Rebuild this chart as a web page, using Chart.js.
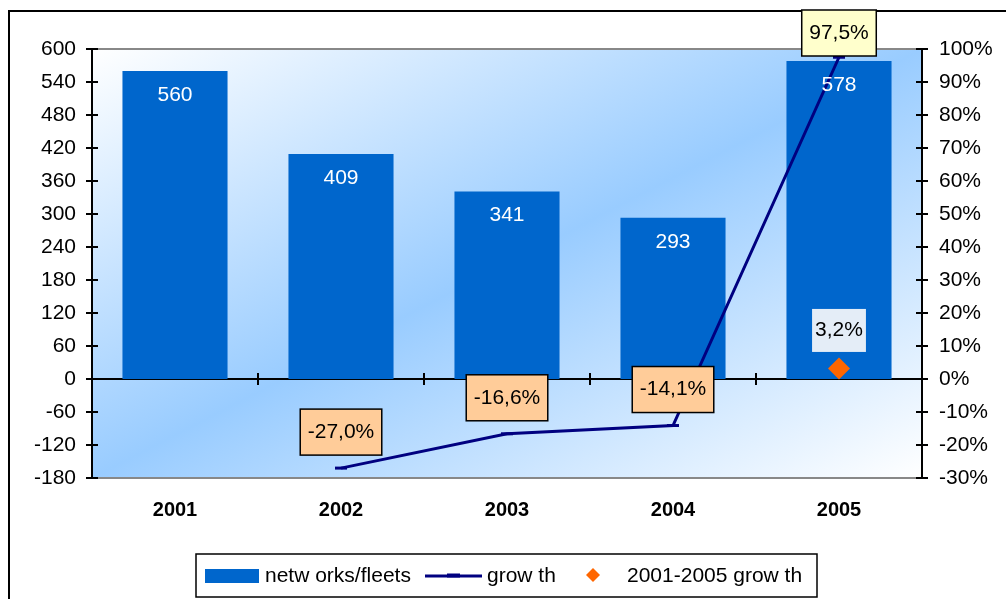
<!DOCTYPE html>
<html>
<head>
<meta charset="utf-8">
<script src="https://cdn.jsdelivr.net/npm/chart.js@4"></script>
<style>
  html, body { margin: 0; padding: 0; background: #fff; }
  #wrap { position: relative; width: 1006px; height: 599px; }
</style>
</head>
<body>
<div id="wrap"><canvas id="chart"></canvas></div>
<script>
const years = ["2001", "2002", "2003", "2004", "2005"];
const fleets = [560, 409, 341, 293, 578];
const growth = [null, -27.0, -16.6, -14.1, 97.5];
const growthTotal = [null, null, null, null, 3.2];
const legendLabels = ["netw orks/fleets", "grow th", "2001-2005 grow th"];

const FONT = '"Liberation Sans", Arial, sans-serif';
const BLUE = "#0066cc", NAVY = "#000080", ORANGE = "#ff6600";
const pct = v => v.toFixed(1).replace(".", ",") + "%";

function diamond(ctx, x, y, r) {
  ctx.beginPath();
  ctx.moveTo(x, y - r); ctx.lineTo(x + r, y); ctx.lineTo(x, y + r); ctx.lineTo(x - r, y);
  ctx.closePath();
  ctx.fill();
}

const decor = {
  id: "decor",
  beforeDraw(chart) {
    const { ctx, chartArea: a } = chart;
    ctx.save();
    // outer frame
    ctx.strokeStyle = "#000";
    ctx.lineWidth = 2;
    ctx.strokeRect(9, 11, 1100, 700);
    // plot area gradient (white -> blue -> white along the diagonal)
    ctx.save();
    ctx.translate(a.left, a.top);
    ctx.scale(a.right - a.left, a.bottom - a.top);
    const g = ctx.createLinearGradient(0, 0, 1, 1);
    g.addColorStop(0, "#ffffff");
    g.addColorStop(0.5, "#99ccff");
    g.addColorStop(1, "#ffffff");
    ctx.fillStyle = g;
    ctx.fillRect(0, 0, 1, 1);
    ctx.restore();
    // grey top / bottom edges
    ctx.strokeStyle = "#888";
    ctx.beginPath();
    ctx.moveTo(a.left, a.top); ctx.lineTo(a.right, a.top);
    ctx.moveTo(a.left, a.bottom); ctx.lineTo(a.right, a.bottom);
    ctx.stroke();
    ctx.restore();
  },
  beforeDatasetsDraw(chart) {
    const { ctx, chartArea: a, scales } = chart;
    const y = scales.y, y1 = scales.y1, x = scales.x;
    const zy = y.getPixelForValue(0);
    ctx.save();
    ctx.strokeStyle = "#000";
    ctx.lineWidth = 2;
    ctx.beginPath();
    ctx.moveTo(a.left, a.top); ctx.lineTo(a.left, a.bottom);
    ctx.moveTo(a.right, a.top); ctx.lineTo(a.right, a.bottom);
    ctx.moveTo(a.left, zy); ctx.lineTo(a.right, zy);
    y.ticks.forEach(t => {
      const py = y.getPixelForValue(t.value);
      ctx.moveTo(a.left - 6, py); ctx.lineTo(a.left + 6, py);
    });
    y1.ticks.forEach(t => {
      const py = y1.getPixelForValue(t.value);
      ctx.moveTo(a.right - 6, py); ctx.lineTo(a.right + 6, py);
    });
    for (let i = 1; i < years.length; i++) {
      const px = (x.getPixelForValue(i - 1) + x.getPixelForValue(i)) / 2;
      ctx.moveTo(px, zy - 6); ctx.lineTo(px, zy + 6);
    }
    ctx.stroke();
    ctx.restore();
  },
  afterDraw(chart) {
    const { ctx } = chart;
    ctx.save();
    ctx.font = "21px " + FONT;
    ctx.textAlign = "center";
    ctx.textBaseline = "middle";

    // bar values
    ctx.fillStyle = "#fff";
    chart.getDatasetMeta(0).data.forEach((b, i) => {
      ctx.fillText(String(fleets[i]), b.x, b.y + 24);
    });

    // growth labels
    chart.getDatasetMeta(1).data.forEach((p, i) => {
      const v = growth[i];
      if (v === null) return;
      const txt = pct(v);
      const w = ctx.measureText(txt).width + 15, h = 46;
      const top = Math.max(p.y - 36 - h / 2, 10);
      ctx.fillStyle = v >= 0 ? "#ffffcc" : "#ffcc99";
      ctx.fillRect(p.x - w / 2, top, w, h);
      ctx.strokeStyle = "#000";
      ctx.lineWidth = 1.5;
      ctx.strokeRect(p.x - w / 2, top, w, h);
      ctx.fillStyle = "#000";
      ctx.fillText(txt, p.x, top + h / 2);
    });

    // 2001-2005 label
    chart.getDatasetMeta(2).data.forEach((p, i) => {
      const v = growthTotal[i];
      if (v === null) return;
      const txt = pct(v);
      const w = ctx.measureText(txt).width + 6, h = 43;
      ctx.fillStyle = "#e4edf7";
      ctx.fillRect(p.x - w / 2, p.y - 38 - h / 2, w, h);
      ctx.fillStyle = "#000";
      ctx.fillText(txt, p.x, p.y - 38);
    });

    // legend
    const ly = 576;
    ctx.strokeStyle = "#000";
    ctx.lineWidth = 1.5;
    ctx.strokeRect(196, 554, 621, 43);
    ctx.textAlign = "left";
    ctx.fillStyle = BLUE;
    ctx.fillRect(205, 569, 54, 14);
    ctx.fillStyle = "#000";
    ctx.fillText(legendLabels[0], 265, ly);
    ctx.strokeStyle = NAVY;
    ctx.lineWidth = 3;
    ctx.beginPath();
    ctx.moveTo(425, ly); ctx.lineTo(482, ly);
    ctx.stroke();
    ctx.lineWidth = 4;
    ctx.beginPath();
    ctx.moveTo(447, ly - 0.5); ctx.lineTo(460, ly - 0.5);
    ctx.stroke();
    ctx.fillStyle = "#000";
    ctx.fillText(legendLabels[1], 487, ly);
    ctx.fillStyle = ORANGE;
    diamond(ctx, 593, ly - 1, 7);
    ctx.fillStyle = "#000";
    ctx.fillText(legendLabels[2], 627, ly);
    ctx.restore();
  }
};

new Chart(document.getElementById("chart"), {
  type: "bar",
  data: {
    labels: years,
    datasets: [
      {
        label: legendLabels[0],
        data: fleets,
        backgroundColor: BLUE,
        categoryPercentage: 1,
        barPercentage: 0.633,
        yAxisID: "y",
        order: 3
      },
      {
        type: "line",
        label: legendLabels[1],
        data: growth,
        borderColor: NAVY,
        borderWidth: 3,
        tension: 0,
        pointStyle: "line",
        pointRadius: 6,
        pointBorderColor: NAVY,
        pointBorderWidth: 3,
        yAxisID: "y1",
        order: 2
      },
      {
        type: "line",
        label: legendLabels[2],
        data: growthTotal,
        showLine: false,
        pointStyle: "rectRot",
        pointRadius: 11,
        pointBackgroundColor: ORANGE,
        pointBorderColor: ORANGE,
        pointBorderWidth: 0,
        yAxisID: "y1",
        order: 1
      }
    ]
  },
  options: {
    responsive: true,
    maintainAspectRatio: false,
    animation: false,
    events: [],
    layout: { padding: { top: 49, left: 0, right: 0, bottom: 0 } },
    plugins: { legend: { display: false }, tooltip: { enabled: false } },
    scales: {
      x: {
        grid: { display: false, drawTicks: false },
        border: { display: false },
        ticks: { color: "#000", font: { family: FONT, size: 20, weight: "bold" }, padding: 20 },
        afterFit: s => { s.height = 121; }
      },
      y: {
        position: "left",
        min: -180,
        max: 600,
        grid: { display: false, drawTicks: false },
        border: { display: false },
        ticks: { stepSize: 60, color: "#000", font: { family: FONT, size: 21 }, padding: 16 },
        afterFit: s => { s.width = 92; }
      },
      y1: {
        position: "right",
        min: -30,
        max: 100,
        grid: { display: false, drawTicks: false },
        border: { display: false },
        ticks: { stepSize: 10, color: "#000", font: { family: FONT, size: 21 }, padding: 17,
                 callback: v => v + "%" },
        afterFit: s => { s.width = 84; }
      }
    }
  },
  plugins: [decor]
});
</script>
</body>
</html>
